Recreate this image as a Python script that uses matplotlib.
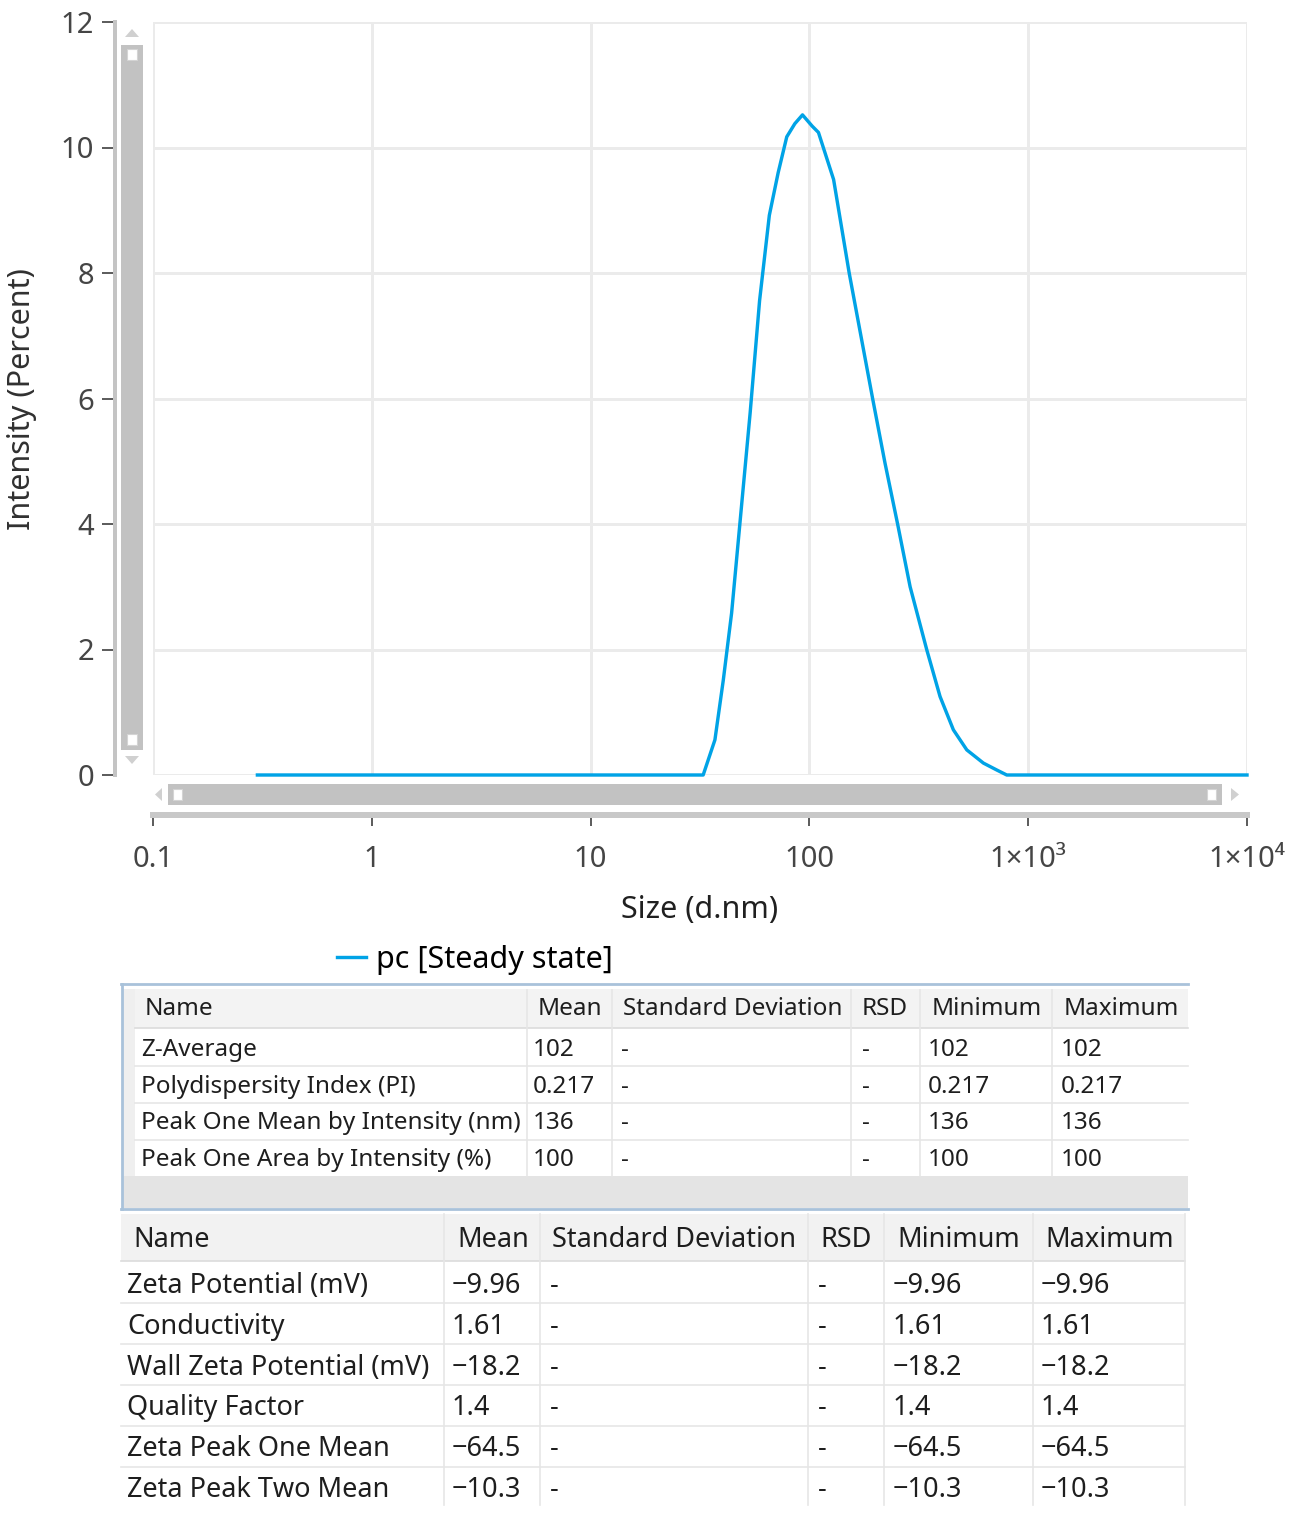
import numpy as np
import matplotlib.pyplot as plt
from matplotlib.patches import Rectangle, Polygon
from matplotlib.ticker import NullLocator

plt.rcParams['font.family'] = ['Noto Sans', 'DejaVu Sans']

# size distribution by intensity
size_nm = [0.3, 32.7, 37.0, 40.4, 44.1, 48.1, 53.6, 59.2, 65.6, 72.0, 78.8, 85.8,
           93.0, 103, 110, 129, 152, 194.5, 221.6, 253, 288.6, 343.6, 395.5, 455,
           524, 624, 718, 798, 10000]
intensity = [0, 0, 0.56, 1.51, 2.58, 4.0, 5.77, 7.56, 8.92, 9.60, 10.17, 10.38,
             10.52, 10.34, 10.24, 9.49, 8.0, 6.0, 4.97, 4.0, 3.0, 2.0, 1.25, 0.72,
             0.40, 0.19, 0.08, 0, 0]
legend_label = 'pc [Steady state]'

x_ticks = [0.1, 1, 10, 100, 1000, 10000]
x_tick_labels = ['0.1', '1', '10', '100', '1×10³', '1×10⁴']
y_ticks = [0, 2, 4, 6, 8, 10, 12]

headers = ['Name', 'Mean', 'Standard Deviation', 'RSD', 'Minimum', 'Maximum']

size_names = ['Z-Average', 'Polydispersity Index (PI)',
              'Peak One Mean by Intensity (nm)', 'Peak One Area by Intensity (%)']
size_mean = ['102', '0.217', '136', '100']
size_sd = ['-', '-', '-', '-']
size_rsd = ['-', '-', '-', '-']
size_min = ['102', '0.217', '136', '100']
size_max = ['102', '0.217', '136', '100']

zeta_names = ['Zeta Potential (mV)', 'Conductivity', 'Wall Zeta Potential (mV)',
              'Quality Factor', 'Zeta Peak One Mean', 'Zeta Peak Two Mean']
zeta_mean = ['−9.96', '1.61', '−18.2', '1.4', '−64.5', '−10.3']
zeta_sd = ['-'] * 6
zeta_rsd = ['-'] * 6
zeta_min = ['−9.96', '1.61', '−18.2', '1.4', '−64.5', '−10.3']
zeta_max = ['−9.96', '1.61', '−18.2', '1.4', '−64.5', '−10.3']

BLUE = '#00a3e6'
GRID = '#ebebeb'
W, H = 1301, 1514
px = 72 / 100  # pixels -> points

fig = plt.figure(figsize=(W / 100, H / 100), dpi=100)

# ---- distribution plot
ax = fig.add_axes([153 / W, 1 - 775 / H, 1094 / W, 753 / H])
ax.plot(size_nm, intensity, color=BLUE, lw=3.4 * px, clip_on=False,
        label=legend_label, zorder=3)
ax.set_xscale('log')
ax.set_xlim(0.1, 1e4)
ax.set_ylim(0, 12)
ax.set_xticks(x_ticks)
ax.set_xticklabels(x_tick_labels)
ax.xaxis.set_minor_locator(NullLocator())
ax.set_yticks(y_ticks)
ax.grid(True, color=GRID, lw=3 * px)
ax.set_axisbelow(True)
for gl in ax.get_xgridlines() + ax.get_ygridlines():
    gl.set_clip_on(False)

ax.spines['top'].set_visible(False)
ax.spines['right'].set_visible(False)
ax.spines['left'].set_position(('outward', 38 * px))
ax.spines['left'].set_color('#c4c4c4')
ax.spines['left'].set_linewidth(4 * px)
ax.spines['bottom'].set_position(('outward', 40 * px))
ax.spines['bottom'].set_color('#c8c8c8')
ax.spines['bottom'].set_linewidth(6 * px)
ax.tick_params(axis='y', direction='out', length=13 * px, width=1.4,
               color='#5a5a5a', pad=8 * px, labelsize=21, labelcolor='#454545')
ax.tick_params(axis='x', direction='out', length=11 * px, width=1.4,
               color='#5a5a5a', pad=19 * px, labelsize=21, labelcolor='#454545')

ax.legend(loc='center left', bbox_to_anchor=(337 / W, 1 - 960 / H),
          bbox_transform=fig.transFigure, frameon=False, fontsize=22,
          borderpad=0, borderaxespad=0, handlelength=0.95, handletextpad=0.33)

# ---- overlay in pixel coordinates: scrollbars, labels, tables
ov = fig.add_axes([0, 0, 1, 1])
ov.set_xlim(0, W)
ov.set_ylim(H, 0)
ov.axis('off')

SB = '#c2c2c2'
ov.add_patch(Rectangle((121, 45), 22, 705, fc=SB, ec='none'))
ov.add_patch(Polygon([(125, 37), (139, 37), (132, 29)], fc='#d0d0d0', ec='none'))
ov.add_patch(Polygon([(125, 756), (139, 756), (132, 764)], fc='#d0d0d0', ec='none'))
ov.add_patch(Rectangle((127, 49), 10, 11, fc='white', ec='#d4d4d4', lw=0.8))
ov.add_patch(Rectangle((127, 734), 10, 11, fc='white', ec='#d4d4d4', lw=0.8))

ov.add_patch(Rectangle((168, 784), 1054, 21, fc=SB, ec='none'))
ov.add_patch(Polygon([(162, 788), (162, 801), (155, 794.5)], fc='#d0d0d0', ec='none'))
ov.add_patch(Polygon([(1231, 788), (1231, 801), (1239, 794.5)], fc='#d0d0d0', ec='none'))
ov.add_patch(Rectangle((173, 789), 9, 11, fc='white', ec='#d4d4d4', lw=0.8))
ov.add_patch(Rectangle((1207, 789), 9, 11, fc='white', ec='#d4d4d4', lw=0.8))

ov.text(22, 399, 'Intensity (Percent)', rotation=90, ha='center', va='center',
        fontsize=22, color='#303030')
ov.text(700, 910, 'Size (d.nm)', ha='center', va='center', fontsize=22,
        color='#202020')

TXT = '#1e1e1e'
LINE = '#e6e6e6'

# table 1: size results
t1_cols = [size_names, size_mean, size_sd, size_rsd, size_min, size_max]
t1_hx = [145, 538, 623, 862, 932, 1064]
t1_dx = [141, 533, 621, 862, 928, 1061]
t1_sep = [527, 612, 851, 920, 1052]
ov.add_patch(Rectangle((123, 989), 1065, 39, fc='#f3f3f3', ec='none'))
ov.add_patch(Rectangle((123, 989), 12, 188, fc='#efefef', ec='none'))
ov.add_patch(Rectangle((123, 1176), 1065, 32, fc='#e4e4e4', ec='none'))
ov.plot([121, 1188], [984, 984], color='#a9c2da', lw=2)
ov.plot([121, 1188], [1209, 1209], color='#a9c2da', lw=2)
ov.plot([122, 122], [984, 1209], color='#a9c2da', lw=2)
ov.plot([135, 1188], [1028, 1028], color='#dcdcdc', lw=1.2)
for sx in t1_sep:
    ov.plot([sx, sx], [990, 1176], color=LINE, lw=1.2)
for h, x in zip(headers, t1_hx):
    ov.text(x, 1009, h, ha='left', va='center', fontsize=17.5, color=TXT)
for i in range(len(size_names)):
    yc = 1048 + i * 36.7
    if i > 0:
        ov.plot([135, 1188], [yc - 18.3, yc - 18.3], color=LINE, lw=1.2)
    for col, x in zip(t1_cols, t1_dx):
        ov.text(x, yc + 2, col[i], ha='left', va='center', fontsize=17.5, color=TXT)

# table 2: zeta results
t2_cols = [zeta_names, zeta_mean, zeta_sd, zeta_rsd, zeta_min, zeta_max]
t2_hx = [133, 457, 552, 820, 897, 1045]
t2_dx = [127, 452, 550, 818, 893, 1041]
t2_sep = [444, 540, 808, 884, 1033, 1185]
ov.add_patch(Rectangle((121, 1214), 1064, 47, fc='#f2f2f2', ec='none'))
ov.plot([121, 1185], [1261, 1261], color='#dcdcdc', lw=1.2)
for sx in t2_sep:
    ov.plot([sx, sx], [1214, 1505], color=LINE, lw=1.2)
for h, x in zip(headers, t2_hx):
    ov.text(x, 1240, h, ha='left', va='center', fontsize=19.5, color=TXT)
for i in range(len(zeta_names)):
    yc = 1283 + i * 40.8
    if i > 0:
        ov.plot([121, 1185], [yc - 20.4, yc - 20.4], color=LINE, lw=1.2)
    for col, x in zip(t2_cols, t2_dx):
        ov.text(x, yc + 3, col[i], ha='left', va='center', fontsize=19.5, color=TXT)

fig.savefig('out.png', dpi=100)
